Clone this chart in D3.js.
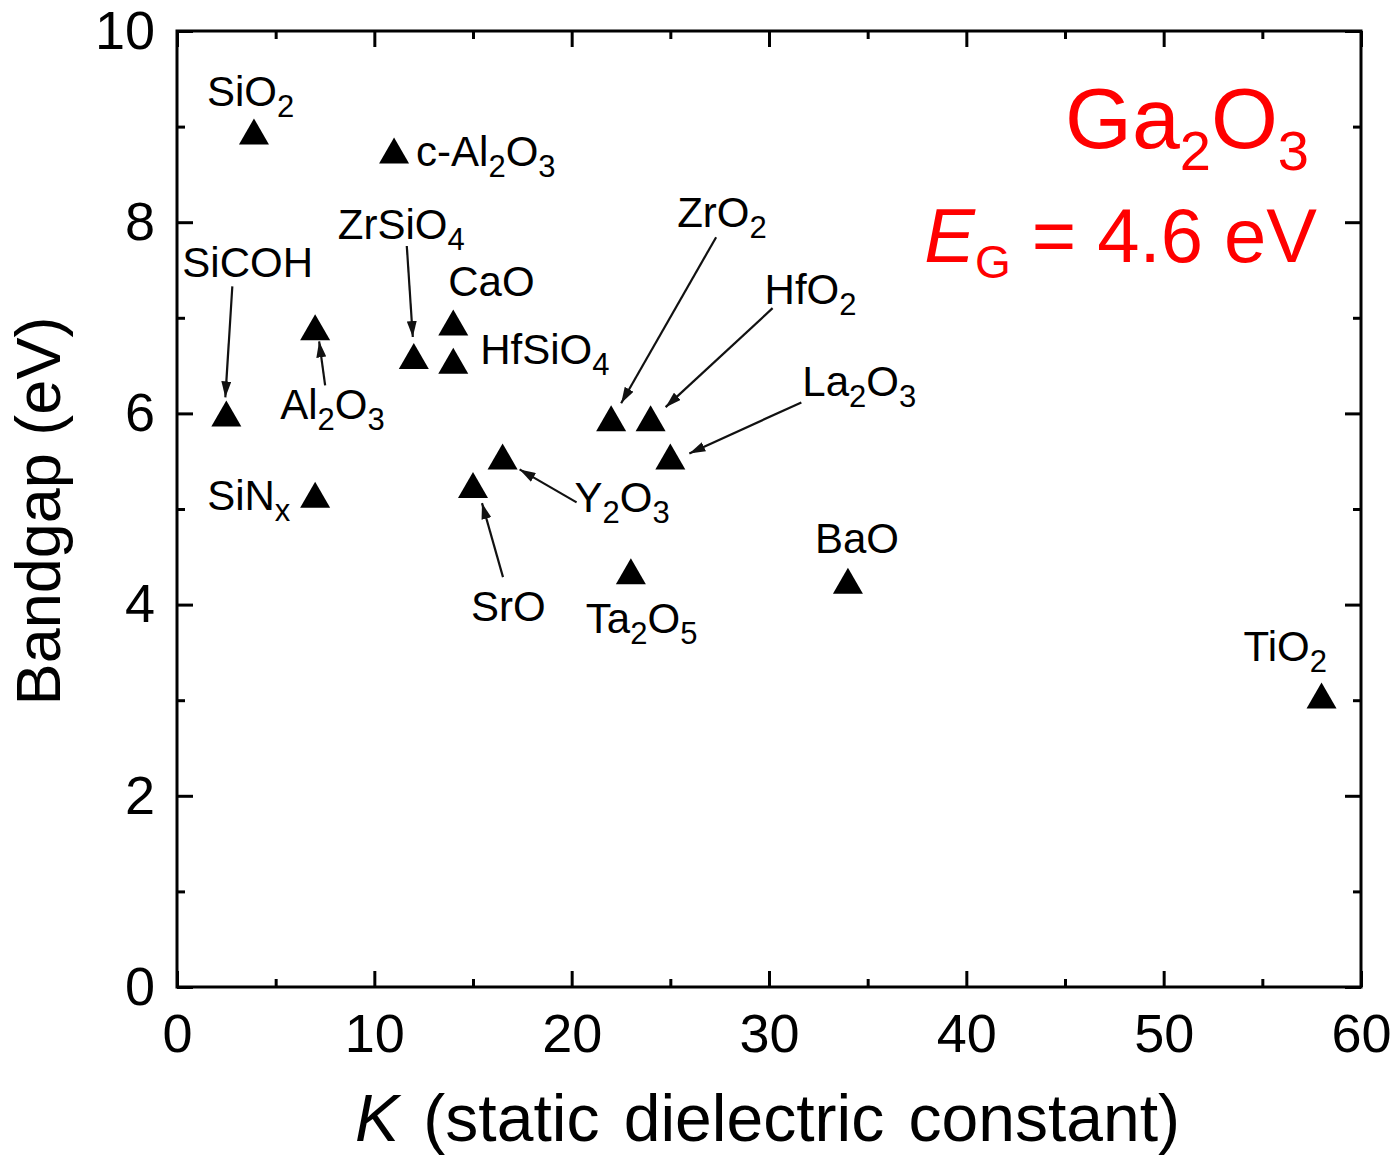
<!DOCTYPE html>
<html>
<head>
<meta charset="utf-8">
<script src="https://cdn.jsdelivr.net/npm/d3@7"></script>
<style>
  body { margin: 0; background: #fff; }
  text { font-family: "Liberation Sans", Arial, sans-serif; fill: #000; }
</style>
</head>
<body>
<svg id="chart" width="1400" height="1161"></svg>
<script>
// Data
const materials = ["SiO_2", "c-Al_2O_3", "SiCOH", "Al_2O_3", "SiN_x", "ZrSiO_4", "CaO", "HfSiO_4",
  "SrO", "Y_2O_3", "Ta_2O_5", "ZrO_2", "HfO_2", "La_2O_3", "BaO", "TiO_2"];
const kValues = [3.9, 11, 2.5, 7, 7, 12, 14, 14, 15, 16.5, 23, 22, 24, 25, 34, 58];
const gapValues = [8.95, 8.75, 6.0, 6.9, 5.15, 6.6, 6.95, 6.55, 5.25, 5.55, 4.35, 5.95, 5.95, 5.55, 4.25, 3.05];

const xTicks = [0, 10, 20, 30, 40, 50, 60];
const xMinorTicks = [5, 15, 25, 35, 45, 55];
const yTicks = [0, 2, 4, 6, 8, 10];
const yMinorTicks = [1, 3, 5, 7, 9];

// label placement, pixel offsets from the marker (text start, baseline)
const labelOffsets = [[-47, -25], [22, 15], [-44, -136], [-35, 92], [-108, 15], [-76, -117], [-5, -27], [27, 3],
  [-2, 136], [72, 56], [-45, 62], [66, -191], [114, -114], [132, -60], [-33, -28], [-78, -34]];
// leader arrows, pixel offsets from the marker: [fromX, fromY, toX, toY]
const arrowOffsets = [null, null, [6, -127, -1, -16], [10, 58, 4, 14], null, [-7, -110, -1, -19], null, null,
  [30, 92, 9, 18], [74, 46, 17, 13], null, [105, -181, 10, -15], [122, -110, 15, -11], [131, -54, 19, -3], null, null];

const svg = d3.select("#chart");
const margin = { left: 177, right: 39, top: 31, bottom: 174 };
const W = 1400, H = 1161;
const x = d3.scaleLinear().domain([0, 60]).range([margin.left, W - margin.right]);
const y = d3.scaleLinear().domain([0, 10]).range([H - margin.bottom, margin.top]);

svg.append("rect").attr("width", W).attr("height", H).attr("fill", "#fff");

// write "SiO_2" style strings with subscripts
const writeFormula = (sel, str, fs, subFs, shift) => {
  const parts = str.split(/(_.)/).filter(s => s.length);
  let down = false;
  parts.forEach(p => {
    const isSub = p[0] === "_";
    const t = sel.append("tspan").text(isSub ? p.slice(1) : p)
      .attr("font-size", isSub ? subFs : fs);
    if (isSub && !down) { t.attr("dy", shift); down = true; }
    else if (!isSub && down) { t.attr("dy", -shift); down = false; }
  });
};

// Axes, ticks pointing inside, on all four sides
const axisStyle = (g) => {
  g.select(".domain").remove();
  g.selectAll(".tick line").attr("stroke", "#000").attr("stroke-width", 3);
};
const plotH = y(0) - y(10), plotW = x(60) - x(0);

svg.append("g").attr("transform", `translate(0,${y(0)})`)
  .call(d3.axisBottom(x).tickValues(xTicks).tickSize(-16).tickPadding(27).tickFormat(d3.format("d")))
  .call(axisStyle)
  .call(g => g.selectAll("text").attr("font-size", 54).attr("font-family", "Liberation Sans, Arial"));
svg.append("g").attr("transform", `translate(0,${y(0)})`)
  .call(d3.axisBottom(x).tickValues(xMinorTicks).tickSize(-8).tickFormat(""))
  .call(axisStyle);
svg.append("g").attr("transform", `translate(0,${y(10)})`)
  .call(d3.axisTop(x).tickValues(xTicks).tickSize(-16).tickFormat(""))
  .call(axisStyle);
svg.append("g").attr("transform", `translate(0,${y(10)})`)
  .call(d3.axisTop(x).tickValues(xMinorTicks).tickSize(-8).tickFormat(""))
  .call(axisStyle);

svg.append("g").attr("transform", `translate(${x(0)},0)`)
  .call(d3.axisLeft(y).tickValues(yTicks).tickSize(-16).tickPadding(22).tickFormat(d3.format("d")))
  .call(axisStyle)
  .call(g => g.selectAll("text").attr("font-size", 54).attr("font-family", "Liberation Sans, Arial"));
svg.append("g").attr("transform", `translate(${x(0)},0)`)
  .call(d3.axisLeft(y).tickValues(yMinorTicks).tickSize(-8).tickFormat(""))
  .call(axisStyle);
svg.append("g").attr("transform", `translate(${x(60)},0)`)
  .call(d3.axisRight(y).tickValues(yTicks).tickSize(-16).tickFormat(""))
  .call(axisStyle);
svg.append("g").attr("transform", `translate(${x(60)},0)`)
  .call(d3.axisRight(y).tickValues(yMinorTicks).tickSize(-8).tickFormat(""))
  .call(axisStyle);

// plot frame
svg.append("rect")
  .attr("x", x(0)).attr("y", y(10)).attr("width", plotW).attr("height", plotH)
  .attr("fill", "none").attr("stroke", "#000").attr("stroke-width", 3);

// Axis titles
const xt = svg.append("text").attr("x", 355).attr("y", 1141).attr("font-size", 66)
  .attr("word-spacing", 6);
xt.append("tspan").attr("font-style", "italic").text("K");
xt.append("tspan").text(" (static dielectric constant)");

svg.append("text")
  .attr("transform", `translate(60,${(y(0) + y(10)) / 2 + 2}) rotate(-90)`)
  .attr("text-anchor", "middle").attr("font-size", 63)
  .text("Bandgap (eV)");

// Arrow marker
svg.append("defs").append("marker")
  .attr("id", "head").attr("viewBox", "0 0 16 10")
  .attr("refX", 16).attr("refY", 5)
  .attr("markerWidth", 16).attr("markerHeight", 10)
  .attr("markerUnits", "userSpaceOnUse").attr("orient", "auto")
  .append("path").attr("d", "M0,0 L16,5 L0,10 Z").attr("fill", "#111");

const pts = materials.map((m, i) => ({ name: m, k: kValues[i], gap: gapValues[i],
  lab: labelOffsets[i], arr: arrowOffsets[i] }));

// leader lines
svg.append("g").selectAll("line")
  .data(pts.filter(d => d.arr))
  .join("line")
  .attr("x1", d => x(d.k) + d.arr[0]).attr("y1", d => y(d.gap) + d.arr[1])
  .attr("x2", d => x(d.k) + d.arr[2]).attr("y2", d => y(d.gap) + d.arr[3])
  .attr("stroke", "#111").attr("stroke-width", 2.2)
  .attr("marker-end", "url(#head)");

// triangle markers, centred on their bounding box
svg.append("g").selectAll("path")
  .data(pts)
  .join("path")
  .attr("transform", d => `translate(${x(d.k)},${y(d.gap)})`)
  .attr("d", "M0,-13 L15,13 L-15,13 Z")
  .attr("fill", "#000");

// labels
svg.append("g").selectAll("text")
  .data(pts)
  .join("text")
  .attr("x", d => x(d.k) + d.lab[0])
  .attr("y", d => y(d.gap) + d.lab[1])
  .each(function (d) { writeFormula(d3.select(this), d.name, 42, 31, 11); });

// Ga2O3 note
const g1 = svg.append("text").attr("x", 1309).attr("y", 148).attr("text-anchor", "end");
writeFormula(g1, "Ga_2O_3", 86, 56, 22);
g1.selectAll("tspan").attr("fill", "#f00");

const g2 = svg.append("text").attr("x", 1317).attr("y", 262).attr("text-anchor", "end");
g2.append("tspan").attr("font-style", "italic").attr("font-size", 76).attr("fill", "#f00").text("E");
g2.append("tspan").attr("font-size", 46).attr("dy", 16).attr("fill", "#f00").text("G");
g2.append("tspan").attr("font-size", 76).attr("dy", -16).attr("fill", "#f00").text(" = 4.6 eV");
</script>
</body>
</html>
